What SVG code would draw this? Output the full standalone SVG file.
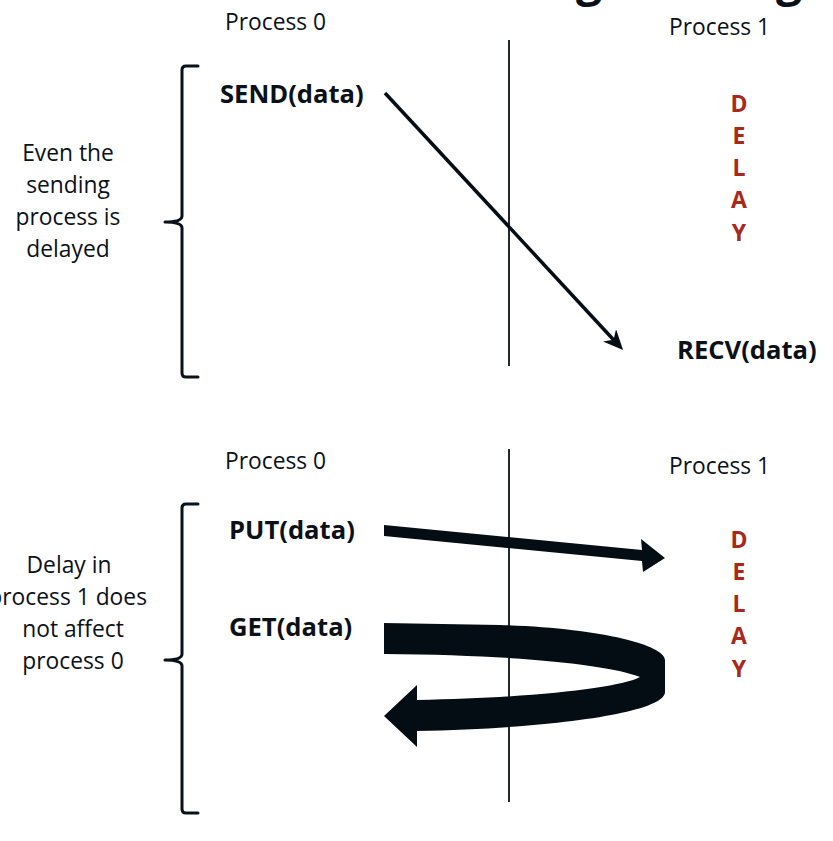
<svg xmlns="http://www.w3.org/2000/svg" width="833" height="841" viewBox="0 0 833 841">
<style>
.t{font-family:"Open Sans","Liberation Sans",sans-serif;font-size:22.8px;fill:#0b1118}
.lbl{font-family:"Open Sans","Liberation Sans",sans-serif;font-size:22.8px;fill:#0b1118;text-anchor:middle}
.op{font-family:"Open Sans","Liberation Sans",sans-serif;font-size:25.6px;font-weight:bold;fill:#0b1118}
.dl{font-family:"Open Sans","Liberation Sans",sans-serif;font-size:23px;font-weight:bold;fill:#a8281c;text-anchor:middle}
.ttl{font-family:"Open Sans","Liberation Sans",sans-serif;font-size:46px;font-weight:bold;fill:#0b1118}
.axis{stroke:#0b1118;stroke-width:1.8;fill:none}
.brace{stroke:#0b1118;stroke-width:3;fill:none;stroke-linejoin:round;stroke-linecap:round}
.blk{fill:#050d14}
</style>
<defs>
<marker id="stealth" viewBox="0 0 20 18" refX="8" refY="9" markerWidth="20" markerHeight="18" markerUnits="userSpaceOnUse" orient="auto">
<path d="M0,0 L20,9 L0,18 L6,9 z" fill="#050d14"/>
</marker>
</defs>
<rect width="833" height="841" fill="#ffffff"/>
<g id="title-fragment">
<text class="ttl" x="576" y="-4">g</text>
<text class="ttl" x="776" y="-4">g</text>
</g>
<g id="top-section">
<text class="t" x="225" y="30">Process 0</text>
<text class="t" x="669" y="35">Process 1</text>
<g id="brace-top"><path class="brace" d="M198,66 H186 Q182,66 182,70 V216 Q182,222 165,222 Q182,222 182,228 V373 Q182,377 186,377 H198"/></g>
<g id="note-top">
<text class="lbl" x="68" y="161">Even the</text>
<text class="lbl" x="68" y="193">sending</text>
<text class="lbl" x="68" y="225">process is</text>
<text class="lbl" x="68" y="257">delayed</text>
</g>
<g id="send"><text class="op" x="220" y="103">SEND(data)</text></g>
<g id="recv"><text class="op" x="677" y="359">RECV(data)</text></g>
<g id="delay-top">
<text class="dl" x="739" y="112">D</text>
<text class="dl" x="739" y="144">E</text>
<text class="dl" x="739" y="176">L</text>
<text class="dl" x="739" y="208">A</text>
<text class="dl" x="739" y="241">Y</text>
</g>
</g>
<g id="bottom-section">
<text class="t" x="225" y="469">Process 0</text>
<text class="t" x="669" y="474">Process 1</text>
<g id="brace-bottom"><path class="brace" d="M198,504 H186 Q182,504 182,508 V654 Q182,660 165,660 Q182,660 182,666 V809 Q182,813 186,813 H198"/></g>
<g id="note-bottom">
<text class="lbl" x="69" y="573">Delay in</text>
<text class="t" x="147" y="605" text-anchor="end">process 1 does</text>
<text class="lbl" x="73" y="637">not affect</text>
<text class="lbl" x="73" y="669">process 0</text>
</g>
<g id="put"><text class="op" x="229" y="539">PUT(data)</text></g>
<g id="get"><text class="op" x="229" y="636">GET(data)</text></g>
<g id="delay-bottom">
<text class="dl" x="739" y="548">D</text>
<text class="dl" x="739" y="580">E</text>
<text class="dl" x="739" y="612">L</text>
<text class="dl" x="739" y="644">A</text>
<text class="dl" x="739" y="677">Y</text>
</g>
</g>
<g id="connectors">
<line class="axis" x1="509" y1="40" x2="509" y2="366"/>
<line class="axis" x1="509" y1="449" x2="509" y2="802"/>
<line x1="385" y1="93" x2="614.9" y2="341.2" stroke="#050d14" stroke-width="3.5" marker-end="url(#stealth)"/>
<path class="blk" d="M384,525 L642,550 L641,539 L665,558 L643,572 L642,561 L384,536 Z"/>
<path class="blk" d="M384,623 L500,625 C600,628 665,645 665,660 L665,692 C665,712 560,728 417,731 L417,747 L384,716 L417,685 L417,700 C530,698 620,688 640,677 C610,665 520,655 384,654 Z"/>
</g>
</svg>
